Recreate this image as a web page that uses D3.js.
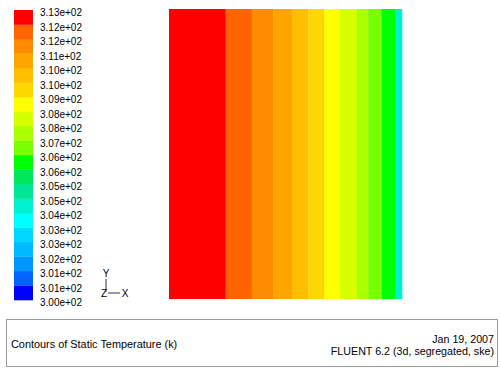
<!DOCTYPE html>
<html>
<head>
<meta charset="utf-8">
<script src="https://cdn.jsdelivr.net/npm/d3@7"></script>
<style>
  html, body { margin: 0; padding: 0; background: #ffffff; }
  svg { display: block; }
  text { font-family: "Liberation Sans", Arial, Helvetica, sans-serif; fill: #000; }
</style>
</head>
<body>
<svg id="chart" width="501" height="369"></svg>
<script>
// ---------------- DATA ----------------
// Colour-bar tick labels (bottom to top), static temperature in K
const tickLabels = [
  "3.00e+02", "3.01e+02", "3.01e+02", "3.02e+02", "3.03e+02", "3.03e+02",
  "3.04e+02", "3.05e+02", "3.05e+02", "3.06e+02", "3.06e+02", "3.07e+02",
  "3.08e+02", "3.08e+02", "3.09e+02", "3.10e+02", "3.10e+02", "3.11e+02",
  "3.12e+02", "3.12e+02", "3.13e+02"
];
const tempMin = 300;
const tempMax = 313;
const bandCount = 20;

// Contour stripes across the domain (normalised x position of each stripe's edges)
const stripeEdges = [0, 0.243, 0.355, 0.448, 0.527, 0.598, 0.667, 0.734, 0.806, 0.855, 0.913, 0.970, 1.0];
// Static temperature level of each stripe (K)
const stripeTemps = [312.7, 312.0, 311.4, 310.7, 310.1, 309.4, 308.8, 308.1, 307.5, 306.8, 306.2, 304.2];

// Texts
const titleText = "Contours of Static Temperature (k)";
const dateText = "Jan 19, 2007";
const solverText = "FLUENT 6.2 (3d, segregated, ske)";

// ---------------- STYLE ----------------
// Fluent-style banded colormap, bottom (cold) to top (hot)
const palette = [
  "rgb(0,0,255)", "rgb(0,100,255)", "rgb(0,150,255)", "rgb(0,185,255)", "rgb(0,215,255)",
  "rgb(0,255,255)", "rgb(0,240,210)", "rgb(0,230,150)", "rgb(0,230,90)", "rgb(0,255,0)",
  "rgb(120,255,0)", "rgb(170,255,0)", "rgb(215,255,0)", "rgb(255,255,0)", "rgb(255,215,0)",
  "rgb(255,190,0)", "rgb(255,165,0)", "rgb(255,140,0)", "rgb(255,100,0)", "rgb(255,0,0)"
];

const svg = d3.select("#chart");

const color = d3.scaleQuantize().domain([tempMin, tempMax]).range(palette);

// ---------------- COLOUR BAR ----------------
const barX = 14, barW = 19, barTop = 10, barBottom = 300;
const yBar = d3.scaleLinear().domain([tempMin, tempMax]).range([barBottom, barTop]);
const bandEdges = d3.range(bandCount + 1).map(i => tempMin + (tempMax - tempMin) * i / bandCount);

svg.append("g").selectAll("rect")
  .data(d3.range(bandCount))
  .join("rect")
  .attr("x", barX)
  .attr("width", barW)
  .attr("y", i => yBar(bandEdges[i + 1]))
  .attr("height", i => yBar(bandEdges[i]) - yBar(bandEdges[i + 1]) + 0.3)
  .attr("fill", i => palette[i]);

svg.append("g").selectAll("text")
  .data(tickLabels)
  .join("text")
  .attr("x", 40)
  .attr("y", (d, i) => yBar(bandEdges[i]) + 2.7)
  .attr("dy", "0.35em")
  .attr("font-size", "10px")
  .attr("fill", "#222")
  .text(d => d);

// ---------------- CONTOUR PLOT ----------------
const xPlot = d3.scaleLinear().domain([0, 1]).range([169, 402]);
const yPlot = d3.scaleLinear().domain([0, 1]).range([299, 9]);

svg.append("g").selectAll("rect")
  .data(stripeTemps)
  .join("rect")
  .attr("x", (d, i) => xPlot(stripeEdges[i]))
  .attr("width", (d, i) => xPlot(stripeEdges[i + 1]) - xPlot(stripeEdges[i]) + 0.3)
  .attr("y", yPlot(1))
  .attr("height", yPlot(0) - yPlot(1))
  .attr("fill", d => color(d));

// ---------------- AXIS TRIAD ----------------
const triad = svg.append("g").attr("stroke", "#333").attr("stroke-width", 1);
triad.append("line").attr("x1", 106).attr("y1", 279).attr("x2", 106).attr("y2", 292);
triad.append("line").attr("x1", 108).attr("y1", 293).attr("x2", 120).attr("y2", 293);
const triadText = svg.append("g").attr("font-size", "10px");
triadText.append("text").attr("x", 106).attr("y", 273).attr("dy", "0.35em").attr("text-anchor", "middle").attr("fill", "#333").text("Y");
triadText.append("text").attr("x", 104).attr("y", 293.5).attr("dy", "0.35em").attr("text-anchor", "middle").attr("fill", "#333").text("Z");
triadText.append("text").attr("x", 125).attr("y", 293.5).attr("dy", "0.35em").attr("text-anchor", "middle").attr("fill", "#333").text("X");

// ---------------- TITLE BOX ----------------
svg.append("rect")
  .attr("x", 6.5).attr("y", 319.5)
  .attr("width", 491).attr("height", 47)
  .attr("fill", "none")
  .attr("stroke", "#9a9a9a")
  .attr("stroke-width", 1);

svg.append("text")
  .attr("x", 11).attr("y", 344).attr("dy", "0.35em")
  .attr("font-size", "10.9px").attr("fill", "#222")
  .text(titleText);

svg.append("text")
  .attr("x", 494).attr("y", 339).attr("dy", "0.35em")
  .attr("text-anchor", "end")
  .attr("font-size", "10.7px").attr("fill", "#222")
  .text(dateText);

svg.append("text")
  .attr("x", 494).attr("y", 351.5).attr("dy", "0.35em")
  .attr("text-anchor", "end")
  .attr("font-size", "10.7px").attr("fill", "#222")
  .text(solverText);
</script>
</body>
</html>
